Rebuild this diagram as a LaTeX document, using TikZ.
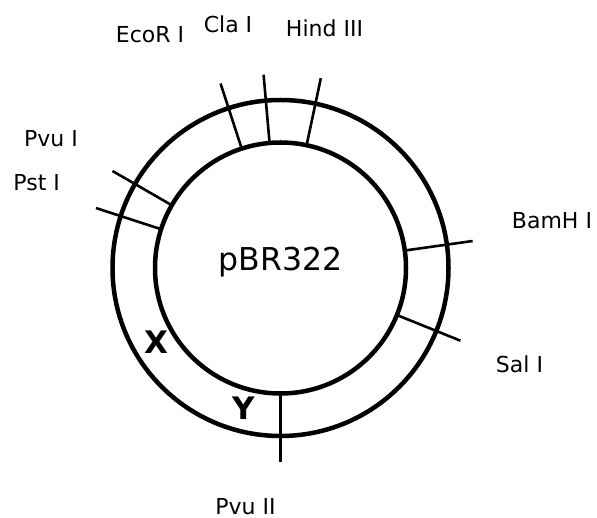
\documentclass[tikz,border=0pt]{standalone}
\usepackage{fontspec}
\setmainfont{DejaVu Sans}
\usetikzlibrary{calc}
\tikzset{
  ring/.style={line width=4.5pt},
  tick/.style={line width=2.6pt},
  lbl/.style={anchor=base, inner sep=0pt, font=\fontsize{22}{26}\selectfont},
  big/.style={anchor=base, inner sep=0pt, font=\fontsize{31.5}{36}\selectfont},
  bigb/.style={anchor=base, inner sep=0pt, font=\fontsize{31}{36}\selectfont\bfseries}
}
\begin{document}
\begin{tikzpicture}[x=1pt,y=-1pt]
\useasboundingbox (0,0) rectangle (597,518);
\coordinate (c) at (280.5,268);
\draw[ring] (c) circle[radius=168];
\draw[ring] (c) circle[radius=125.5];
% ticks (angles negated because y points down)
\foreach \a/\n in {-108/eco, -95/cla, -78/hind, -150/pvui, -162/pst, -8/bam, 22/sal, 90/pvuii}{
  \coordinate (\n-in) at ($(c)+(\a:126)$);
  \coordinate (\n-out) at ($(c)+(\a:194)$);
  \draw[tick] (\n-in) -- (\n-out);
}
\node[lbl] (leco) at (150,43) {EcoR I};
\node[lbl] (lcla) at (228,33) {Cla I};
\node[lbl] (lhind) at (324.5,37) {Hind III};
\node[lbl] (lpvui) at (51,147) {Pvu I};
\node[lbl] (lpst) at (36.7,191) {Pst I};
\node[lbl] (lbam) at (552,229) {BamH I};
\node[lbl] (lsal) at (519.5,372.7) {Sal I};
\node[lbl] (lpvuii) at (245.5,514) {Pvu II};
\node[big] (name) at (280.8,271) {pBR322};
\node[bigb] (x) at (156,354) {X};
\node[bigb] (y) at (243.3,419) {Y};
\end{tikzpicture}
\end{document}
